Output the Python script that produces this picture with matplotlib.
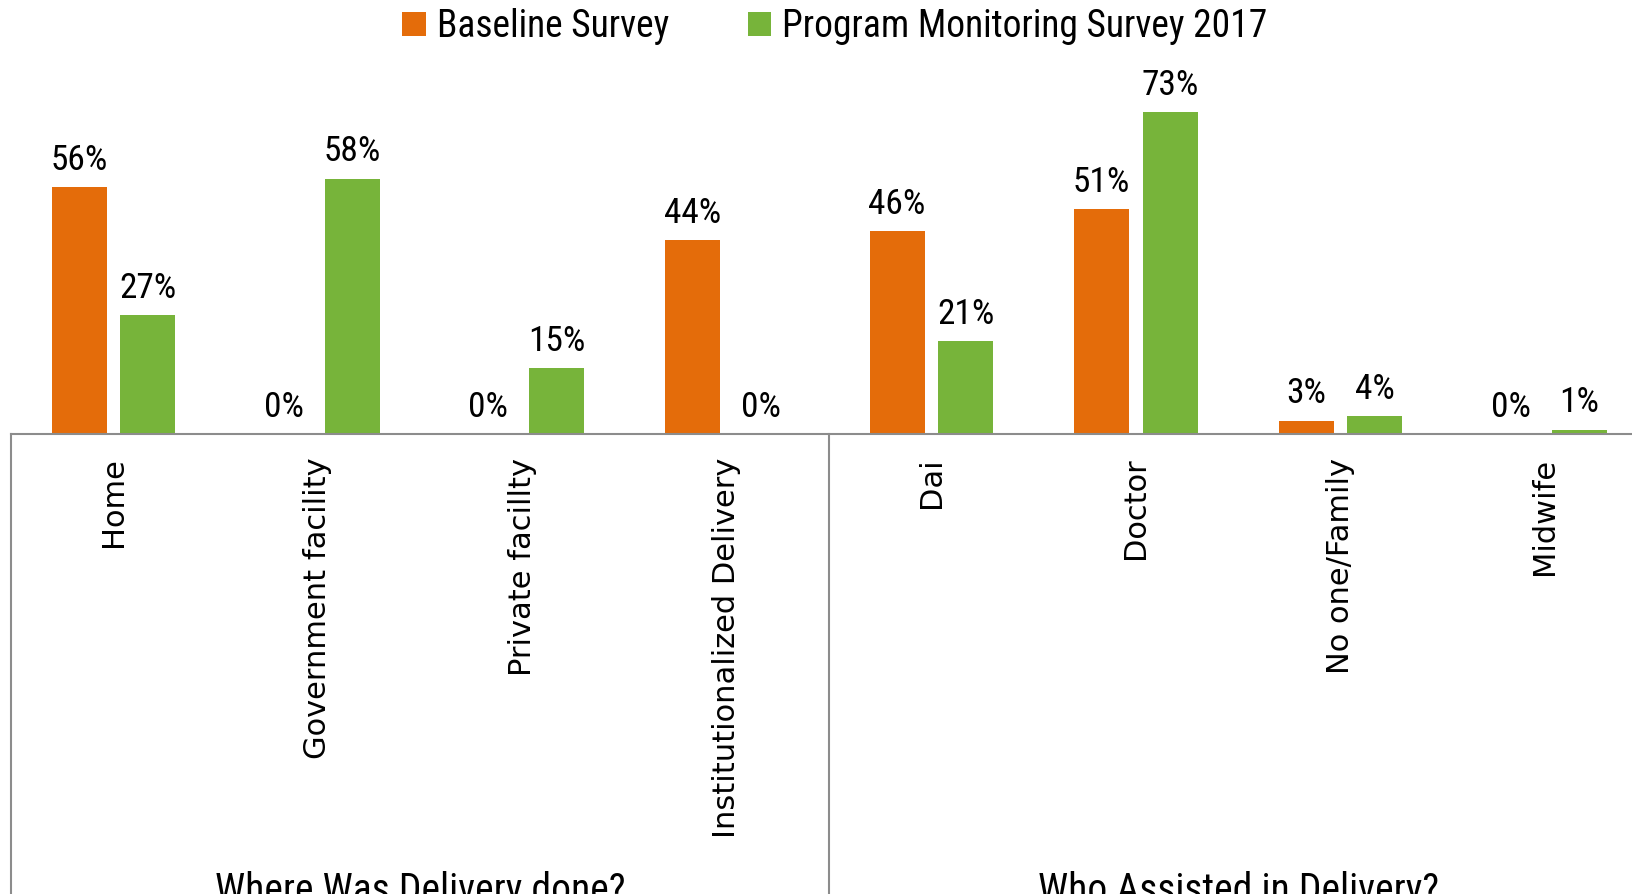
import matplotlib
matplotlib.use("Agg")
import matplotlib.pyplot as plt
import matplotlib.font_manager as fm
from matplotlib.transforms import blended_transform_factory
from matplotlib.lines import Line2D
import numpy as np

categories = ["Home", "Government facility", "Private facillty", "Institutionalized Delivery",
              "Dai", "Doctor", "No one/Family", "Midwife"]
groups = ["Where Was Delivery done?", "Who Assisted in Delivery?"]
group_sizes = [4, 4]
baseline = [0.56, 0.00, 0.00, 0.44, 0.46, 0.51, 0.03, 0.00]
monitoring = [0.27, 0.58, 0.15, 0.00, 0.21, 0.73, 0.04, 0.01]
series_names = ["Baseline Survey", "Program Monitoring Survey 2017"]

c_orange = "#E46C0A"
c_green = "#77B43A"

names = {f.name for f in fm.fontManager.ttflist}
narrow = "DejaVu Sans"
for cand in ["Liberation Sans Narrow", "Roboto Condensed", "Open Sans Condensed", "Lato"]:
    if cand in names:
        narrow = cand
        break

W, H = 1632, 894
fig = plt.figure(figsize=(W / 100, H / 100), dpi=100)

# layout in pixels
left_px, right_px = 11.25, 1647.0
base_px, top_px = 434.0, 60.0
px_per_unit = 440.5  # pixels per 1.0 (100%)
ax = fig.add_axes([left_px / W, (H - base_px) / H, (right_px - left_px) / W, (base_px - top_px) / H])
ax.set_xlim(-0.5, len(categories) - 0.5)
ax.set_ylim(0, (base_px - top_px) / px_per_unit)

x = np.arange(len(categories))
bw = 0.269
off = 0.1675
b1 = ax.bar(x - off, baseline, bw, color=c_orange, label=series_names[0], zorder=2)
b2 = ax.bar(x + off, monitoring, bw, color=c_green, label=series_names[1], zorder=2)

for bars, vals in ((b1, baseline), (b2, monitoring)):
    for rect, v in zip(bars, vals):
        ax.annotate(f"{v * 100:.0f}%", (rect.get_x() + rect.get_width() / 2, v),
                    xytext=(0, 7.5), textcoords="offset points", ha="center", va="bottom",
                    fontsize=25.5, family=narrow, color="black")

for s in ["top", "left", "right"]:
    ax.spines[s].set_visible(False)
ax.spines["bottom"].set_color("#8c8c8c")
ax.spines["bottom"].set_linewidth(1.5)
ax.set_yticks([])
ax.set_xticks(x)
ax.set_xticklabels(categories, rotation=90, fontsize=22, family="DejaVu Sans")
ax.tick_params(axis="x", length=0, pad=17)

# group separators and labels
tr = blended_transform_factory(ax.transData, fig.transFigure)
y_base = (H - base_px) / H
pos = -0.5
for g, n in zip(groups, group_sizes):
    fig.add_artist(Line2D([pos, pos], [0, y_base], transform=tr, color="#8c8c8c", lw=1.5))
    fig.text(pos + n / 2, (H - 871) / H, g, transform=tr, ha="center", va="top",
             fontsize=28.5, family=narrow, color="black")
    pos += n

fig.legend(handles=[b1, b2], labels=series_names, loc="center", bbox_to_anchor=(0.5117, 0.97),
           ncol=2, frameon=False, prop={"family": narrow, "size": 27},
           handlelength=0.62, handleheight=0.62, handletextpad=0.3, columnspacing=2.1)

fig.savefig("out.png", dpi=100)
